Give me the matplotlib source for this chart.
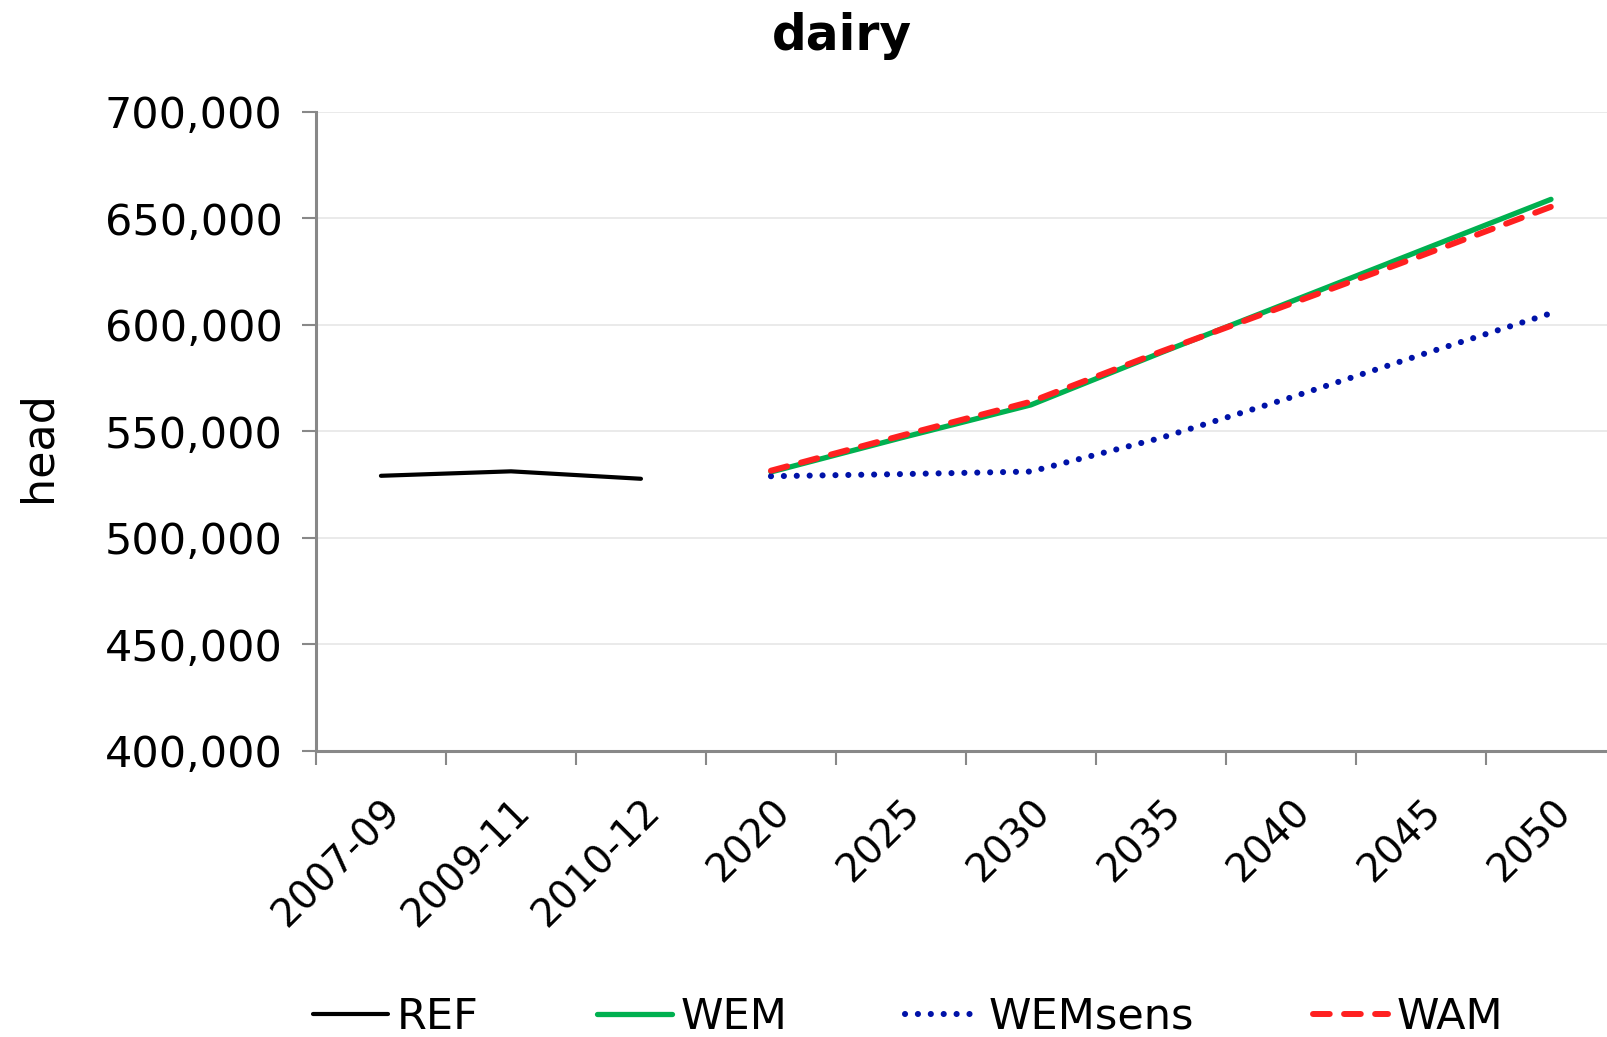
import numpy as np
import matplotlib.pyplot as plt
from matplotlib.ticker import FuncFormatter

categories = ['2007-09', '2009-11', '2010-12', '2020', '2025', '2030',
              '2035', '2040', '2045', '2050']
nan = np.nan
ref = [529200, 531300, 527800, nan, nan, nan, nan, nan, nan, nan]
wem = [nan, nan, nan, 531000, 547000, 562500, 587000, 611000, 635000, 659000]
wemsens = [nan, nan, nan, 529000, 530000, 531200, 547000, 566000, 586000, 605500]
wam = [nan, nan, nan, 531600, 548000, 564000, 587500, 610000, 632500, 655500]

plt.rcParams['font.family'] = ['DejaVu Sans']

fig = plt.figure(figsize=(16.07, 10.37), dpi=100)
# the category axis runs a little past the right edge, as in the original
ax = fig.add_axes([0.1966, 0.2758, 0.809, 0.6162])

x = np.arange(len(categories))
ax.plot(x, ref, color='black', lw=3.0, label='REF', solid_capstyle='round')
ax.plot(x, wem, color='#00b050', lw=3.8, label='WEM', solid_capstyle='round')
ax.plot(x, wemsens, color='#0012a8', lw=4.4, linestyle=(0, (0.01, 2.1)),
        dash_capstyle='round', label='WEMsens')
ax.plot(x, wam, color='#ff2020', lw=4.3, linestyle=(0, (2.8, 2.4)),
        dash_capstyle='round', label='WAM')

ax.set_xlim(-0.5, len(categories) - 0.5)
ax.set_ylim(400000, 700000)
ax.set_yticks(np.arange(400000, 700001, 50000))
ax.yaxis.set_major_formatter(FuncFormatter(lambda v, p: f'{int(v):,}'))
ax.grid(axis='y', color='#e6e6e6', lw=1.2)
ax.set_axisbelow(True)

ax.set_xticks(x)
ax.set_xticklabels(categories, rotation=45, ha='right', rotation_mode='anchor')
ax.set_xticks(np.arange(-0.5, len(categories)), minor=True)
ax.tick_params(axis='x', which='major', length=0, pad=30, labelsize=28)
ax.tick_params(axis='x', which='minor', length=10, width=1.5, color='#888888')
ax.tick_params(axis='y', length=10, width=1.5, color='#888888', labelsize=31, pad=14)

for s in ['top', 'right']:
    ax.spines[s].set_visible(False)
for s in ['left', 'bottom']:
    ax.spines[s].set_color('#888888')
    ax.spines[s].set_linewidth(2.2)

ax.set_ylabel('head', fontsize=32)
ax.yaxis.set_label_coords(-0.197, 0.477)
fig.text(0.524, 0.952, 'dairy', fontsize=35, fontweight='bold', ha='center', va='baseline')

fig.legend(loc='center', bbox_to_anchor=(0.565, 0.0195), ncol=4, frameon=False,
           fontsize=31, handlelength=1.74, handletextpad=0.2, columnspacing=2.75,
           borderpad=0, borderaxespad=0)

fig.savefig('out.png', dpi=100)
